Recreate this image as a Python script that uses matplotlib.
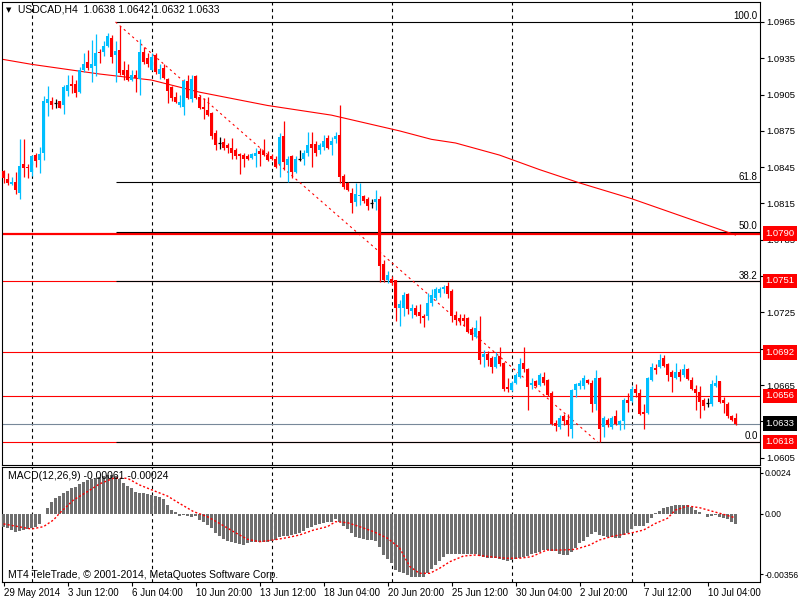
import numpy as np
import matplotlib
matplotlib.use('Agg')
import matplotlib.pyplot as plt
import matplotlib.transforms as mtransforms

plt.rcParams['font.family'] = ['Liberation Sans', 'DejaVu Sans']
plt.rcParams['font.size'] = 7

# USDCAD H4 candles (index 0 = 29 May 20:00)
opens = [1.0842, 1.0835, 1.0831, 1.0833, 1.0824, 1.0848, 1.0845, 1.0841, 1.0855, 1.0851,
         1.0857, 1.0898, 1.0900, 1.0898, 1.0900, 1.0896, 1.0908, 1.0914, 1.0914, 1.0907,
         1.0925, 1.0932, 1.0927, 1.0929, 1.0940, 1.0940, 1.0945, 1.0952, 1.0938, 1.0942,
         1.0925, 1.0925, 1.0917, 1.0921, 1.0918, 1.0940, 1.0935, 1.0925, 1.0938, 1.0922,
         1.0927, 1.0918, 1.0911, 1.0903, 1.0896, 1.0895, 1.0916, 1.0901, 1.0920, 1.0903,
         1.0895, 1.0892, 1.0890, 1.0873, 1.0865, 1.0866, 1.0863, 1.0861, 1.0859, 1.0856,
         1.0855, 1.0854, 1.0853, 1.0854, 1.0858, 1.0858, 1.0855, 1.0854, 1.0852, 1.0848,
         1.0871, 1.0847, 1.0854, 1.0841, 1.0852, 1.0852, 1.0857, 1.0864, 1.0864, 1.0859,
         1.0862, 1.0869, 1.0863, 1.0868, 1.0872, 1.0838, 1.0832, 1.0824, 1.0816, 1.0821,
         1.0821, 1.0819, 1.0815, 1.0816, 1.0819, 1.0765, 1.0752, 1.0753, 1.0752, 1.0729,
         1.0729, 1.0740, 1.0726, 1.0729, 1.0725, 1.0722, 1.0722, 1.0733, 1.0737, 1.0741,
         1.0744, 1.0747, 1.0743, 1.0723, 1.0720, 1.0720, 1.0720, 1.0711, 1.0705, 1.0710,
         1.0688, 1.0691, 1.0687, 1.0680, 1.0689, 1.0683, 1.0663, 1.0661, 1.0667, 1.0672,
         1.0683, 1.0678, 1.0665, 1.0668, 1.0665, 1.0672, 1.0669, 1.0658, 1.0634, 1.0630,
         1.0639, 1.0636, 1.0629, 1.0661, 1.0664, 1.0664, 1.0669, 1.0667, 1.0649, 1.0671,
         1.0630, 1.0636, 1.0630, 1.0639, 1.0632, 1.0635, 1.0653, 1.0652, 1.0662, 1.0658,
         1.0643, 1.0642, 1.0669, 1.0679, 1.0680, 1.0687, 1.0682, 1.0676, 1.0671, 1.0676,
         1.0673, 1.0678, 1.0669, 1.0662, 1.0659, 1.0653, 1.0650, 1.0649, 1.0664, 1.0668,
         1.0653, 1.0649, 1.0639, 1.0638]
highs = [1.0843, 1.0840, 1.0837, 1.0841, 1.0868, 1.0868, 1.0848, 1.0855, 1.0857, 1.0862,
         1.0904, 1.0912, 1.0903, 1.0901, 1.0900, 1.0913, 1.0921, 1.0921, 1.0917, 1.0928,
         1.0939, 1.0942, 1.0950, 1.0955, 1.0943, 1.0949, 1.0956, 1.0954, 1.0949, 1.0962,
         1.0933, 1.0930, 1.0925, 1.0925, 1.0951, 1.0944, 1.0939, 1.0939, 1.0939, 1.0930,
         1.0930, 1.0919, 1.0912, 1.0907, 1.0905, 1.0918, 1.0921, 1.0921, 1.0921, 1.0905,
         1.0902, 1.0903, 1.0891, 1.0876, 1.0870, 1.0869, 1.0865, 1.0869, 1.0861, 1.0857,
         1.0857, 1.0856, 1.0857, 1.0861, 1.0861, 1.0868, 1.0858, 1.0856, 1.0854, 1.0873,
         1.0883, 1.0854, 1.0855, 1.0854, 1.0859, 1.0859, 1.0874, 1.0874, 1.0867, 1.0865,
         1.0872, 1.0872, 1.0870, 1.0874, 1.0896, 1.0839, 1.0833, 1.0828, 1.0832, 1.0832,
         1.0822, 1.0820, 1.0819, 1.0826, 1.0821, 1.0768, 1.0759, 1.0755, 1.0752, 1.0735,
         1.0742, 1.0741, 1.0732, 1.0731, 1.0732, 1.0724, 1.0741, 1.0744, 1.0746, 1.0746,
         1.0748, 1.0750, 1.0744, 1.0726, 1.0724, 1.0724, 1.0721, 1.0713, 1.0719, 1.0722,
         1.0694, 1.0693, 1.0689, 1.0692, 1.0696, 1.0684, 1.0671, 1.0668, 1.0675, 1.0687,
         1.0696, 1.0679, 1.0671, 1.0669, 1.0675, 1.0676, 1.0670, 1.0660, 1.0636, 1.0640,
         1.0641, 1.0641, 1.0662, 1.0667, 1.0669, 1.0673, 1.0670, 1.0669, 1.0677, 1.0672,
         1.0639, 1.0638, 1.0639, 1.0644, 1.0636, 1.0654, 1.0658, 1.0664, 1.0666, 1.0662,
         1.0649, 1.0672, 1.0683, 1.0682, 1.0691, 1.0690, 1.0683, 1.0677, 1.0683, 1.0678,
         1.0682, 1.0679, 1.0672, 1.0665, 1.0664, 1.0654, 1.0654, 1.0669, 1.0673, 1.0668,
         1.0655, 1.0651, 1.0640, 1.0642]
lows = [1.0832, 1.0830, 1.0830, 1.0823, 1.0819, 1.0837, 1.0836, 1.0838, 1.0845, 1.0840,
        1.0851, 1.0887, 1.0893, 1.0894, 1.0894, 1.0889, 1.0904, 1.0906, 1.0903, 1.0906,
        1.0924, 1.0925, 1.0915, 1.0920, 1.0931, 1.0937, 1.0944, 1.0931, 1.0915, 1.0921,
        1.0917, 1.0916, 1.0916, 1.0907, 1.0905, 1.0930, 1.0928, 1.0925, 1.0922, 1.0918,
        1.0918, 1.0898, 1.0900, 1.0898, 1.0895, 1.0888, 1.0901, 1.0899, 1.0901, 1.0893,
        1.0885, 1.0887, 1.0868, 1.0859, 1.0860, 1.0859, 1.0857, 1.0852, 1.0852, 1.0839,
        1.0845, 1.0851, 1.0852, 1.0845, 1.0846, 1.0854, 1.0850, 1.0851, 1.0844, 1.0837,
        1.0843, 1.0833, 1.0836, 1.0840, 1.0850, 1.0847, 1.0854, 1.0845, 1.0854, 1.0856,
        1.0859, 1.0860, 1.0855, 1.0865, 1.0832, 1.0827, 1.0825, 1.0807, 1.0813, 1.0814,
        1.0815, 1.0810, 1.0811, 1.0810, 1.0750, 1.0750, 1.0749, 1.0748, 1.0718, 1.0714,
        1.0722, 1.0724, 1.0720, 1.0722, 1.0716, 1.0713, 1.0719, 1.0730, 1.0735, 1.0738,
        1.0741, 1.0737, 1.0717, 1.0715, 1.0715, 1.0714, 1.0708, 1.0702, 1.0704, 1.0682,
        1.0680, 1.0681, 1.0675, 1.0679, 1.0681, 1.0660, 1.0659, 1.0660, 1.0666, 1.0671,
        1.0676, 1.0644, 1.0662, 1.0663, 1.0664, 1.0665, 1.0656, 1.0632, 1.0627, 1.0629,
        1.0632, 1.0623, 1.0621, 1.0655, 1.0662, 1.0662, 1.0666, 1.0643, 1.0644, 1.0618,
        1.0622, 1.0630, 1.0629, 1.0632, 1.0628, 1.0629, 1.0643, 1.0651, 1.0655, 1.0640,
        1.0629, 1.0641, 1.0668, 1.0674, 1.0679, 1.0680, 1.0668, 1.0659, 1.0670, 1.0668,
        1.0672, 1.0669, 1.0661, 1.0644, 1.0638, 1.0644, 1.0647, 1.0648, 1.0663, 1.0650,
        1.0642, 1.0638, 1.0635, 1.0632]
closes = [1.0836, 1.0832, 1.0833, 1.0826, 1.0846, 1.0844, 1.0844, 1.0854, 1.0850, 1.0856,
          1.0900, 1.0901, 1.0896, 1.0898, 1.0894, 1.0911, 1.0913, 1.0912, 1.0906, 1.0925,
          1.0930, 1.0927, 1.0930, 1.0939, 1.0939, 1.0945, 1.0953, 1.0936, 1.0941, 1.0923,
          1.0921, 1.0917, 1.0921, 1.0919, 1.0940, 1.0932, 1.0930, 1.0936, 1.0924, 1.0926,
          1.0919, 1.0908, 1.0902, 1.0899, 1.0899, 1.0916, 1.0902, 1.0918, 1.0902, 1.0894,
          1.0893, 1.0888, 1.0871, 1.0863, 1.0865, 1.0861, 1.0861, 1.0857, 1.0854, 1.0854,
          1.0852, 1.0852, 1.0856, 1.0857, 1.0856, 1.0855, 1.0851, 1.0852, 1.0845, 1.0870,
          1.0849, 1.0852, 1.0841, 1.0852, 1.0852, 1.0857, 1.0863, 1.0861, 1.0857, 1.0863,
          1.0867, 1.0861, 1.0867, 1.0871, 1.0837, 1.0829, 1.0826, 1.0815, 1.0823, 1.0822,
          1.0817, 1.0813, 1.0815, 1.0819, 1.0763, 1.0752, 1.0756, 1.0749, 1.0729, 1.0732,
          1.0739, 1.0728, 1.0729, 1.0723, 1.0722, 1.0720, 1.0733, 1.0739, 1.0744, 1.0744,
          1.0746, 1.0740, 1.0722, 1.0719, 1.0718, 1.0718, 1.0709, 1.0706, 1.0712, 1.0686,
          1.0691, 1.0686, 1.0680, 1.0688, 1.0682, 1.0662, 1.0662, 1.0667, 1.0673, 1.0682,
          1.0678, 1.0663, 1.0667, 1.0664, 1.0673, 1.0667, 1.0657, 1.0633, 1.0631, 1.0638,
          1.0635, 1.0632, 1.0661, 1.0666, 1.0667, 1.0671, 1.0667, 1.0649, 1.0671, 1.0629,
          1.0638, 1.0632, 1.0638, 1.0633, 1.0635, 1.0653, 1.0650, 1.0662, 1.0658, 1.0641,
          1.0641, 1.0671, 1.0680, 1.0677, 1.0686, 1.0681, 1.0673, 1.0672, 1.0676, 1.0672,
          1.0678, 1.0670, 1.0662, 1.0658, 1.0651, 1.0648, 1.0650, 1.0666, 1.0667, 1.0651,
          1.0650, 1.0639, 1.0636, 1.0633]

# moving average (red line)
ma_idx = [0, 7, 24, 37, 49, 66, 82, 99, 107, 113, 124, 134, 144, 157, 183]
ma_val = [1.0934, 1.0930, 1.0922, 1.0917, 1.0907, 1.0896, 1.0888, 1.0875, 1.0868, 1.0865,
          1.0855, 1.0843, 1.0832, 1.0819, 1.0789]

# MACD(12,26,9) histogram, one value per candle
macd_hist = [-0.00076, -0.00086, -0.00096, -0.00105, -0.00101, -0.00096, -0.00090, -0.00086, -0.00076, -0.00060,
             -0.00002, 0.00035, 0.00066, 0.00090, 0.00103, 0.00119, 0.00135, 0.00148, 0.00158, 0.00172,
             0.00185, 0.00197, 0.00203, 0.00211, 0.00216, 0.00222, 0.00226, 0.00226, 0.00220, 0.00203,
             0.00177, 0.00164, 0.00148, 0.00125, 0.00121, 0.00119, 0.00115, 0.00111, 0.00105, 0.00096,
             0.00084, 0.00051, 0.00021, 0.00008, -0.00014, -0.00008, -0.00012, -0.00018, -0.00014, -0.00037,
             -0.00047, -0.00066, -0.00086, -0.00111, -0.00131, -0.00150, -0.00160, -0.00168, -0.00174, -0.00177,
             -0.00183, -0.00174, -0.00168, -0.00164, -0.00168, -0.00164, -0.00164, -0.00160, -0.00154, -0.00138,
             -0.00131, -0.00129, -0.00125, -0.00119, -0.00111, -0.00099, -0.00086, -0.00076, -0.00068, -0.00060,
             -0.00057, -0.00051, -0.00047, -0.00033, -0.00047, -0.00072, -0.00090, -0.00115, -0.00135, -0.00144,
             -0.00148, -0.00154, -0.00154, -0.00158, -0.00197, -0.00242, -0.00267, -0.00291, -0.00330, -0.00339,
             -0.00349, -0.00359, -0.00369, -0.00369, -0.00369, -0.00369, -0.00345, -0.00326, -0.00300, -0.00275,
             -0.00252, -0.00238, -0.00238, -0.00236, -0.00236, -0.00236, -0.00236, -0.00236, -0.00238, -0.00248,
             -0.00252, -0.00257, -0.00261, -0.00261, -0.00265, -0.00271, -0.00277, -0.00271, -0.00265, -0.00257,
             -0.00252, -0.00246, -0.00238, -0.00228, -0.00222, -0.00213, -0.00213, -0.00218, -0.00218, -0.00238,
             -0.00242, -0.00242, -0.00226, -0.00203, -0.00174, -0.00160, -0.00135, -0.00121, -0.00105, -0.00125,
             -0.00131, -0.00135, -0.00135, -0.00140, -0.00140, -0.00125, -0.00111, -0.00092, -0.00072, -0.00072,
             -0.00072, -0.00057, -0.00027, 0.00002, 0.00016, 0.00035, 0.00041, 0.00047, 0.00051, 0.00051,
             0.00051, 0.00051, 0.00037, 0.00021, 0.00012, -0.00004, -0.00018, -0.00014, -0.00008, -0.00018,
             -0.00027, -0.00033, -0.00047, -0.00061]
# signal line, points
sig_idx = [0, 7, 10, 12.5, 14, 17.5, 21, 24, 27.5, 31, 34, 37.5, 41, 44, 47.5, 51, 54, 57.5, 61, 64,
           67.5, 71, 74, 77.5, 81, 83, 86, 89, 92.5, 96, 99, 101.6, 104, 106.6, 109, 111.6, 115, 118,
           121.6, 125.8, 129, 132, 135.8, 139, 143, 146.6, 149, 152.5, 156.6, 160, 163, 166, 168, 171,
           174, 177.5, 180, 182, 183]
sig_val = [-0.00060, -0.00090, -0.00076, -0.00037, 0.00002, 0.00080, 0.00129, 0.00174, 0.00207, 0.00207,
           0.00168, 0.00135, 0.00103, 0.00060, 0.00012, -0.00018, -0.00057, -0.00105, -0.00150, -0.00164,
           -0.00154, -0.00140, -0.00125, -0.00096, -0.00076, -0.00047, -0.00053, -0.00076, -0.00105, -0.00144,
           -0.00200, -0.00310, -0.00349, -0.00349, -0.00320, -0.00281, -0.00248, -0.00242, -0.00252, -0.00261,
           -0.00261, -0.00252, -0.00213, -0.00213, -0.00209, -0.00183, -0.00154, -0.00131, -0.00115, -0.00096,
           -0.00057, -0.00027, 0.00021, 0.00045, 0.00035, 0.00012, -0.00004, -0.00018, -0.00024]

# fibonacci retracement anchors and ratios
fib_start, fib_end = 28, 148.5
fib_high, fib_low = 1.0965, 1.0618
fib_ratios = [1.0, 0.618, 0.5, 0.382, 0.0]
fib_names = ['100.0', '61.8', '50.0', '38.2', '0.0']

# horizontal levels with red price labels
red_levels = [1.0790, 1.0751, 1.0692, 1.0656, 1.0618]

week_idx = [7, 37, 67, 97, 127, 157]
date_idx = [0, 16, 32, 48, 64, 80, 96, 112, 128, 144, 160, 176]
date_labels = ['29 May 2014', '3 Jun 12:00', '6 Jun 04:00', '10 Jun 20:00', '13 Jun 12:00',
               '18 Jun 04:00', '20 Jun 20:00', '25 Jun 12:00', '30 Jun 04:00', '2 Jul 20:00',
               '7 Jul 12:00', '10 Jul 04:00']
price_ticks = [1.0965, 1.0935, 1.0905, 1.0875, 1.0845, 1.0815, 1.0785, 1.0755, 1.0725,
               1.0695, 1.0665, 1.0635, 1.0605]

BLUE = '#00BFFF'
RED = '#FF0000'

o = np.array(opens)
h = np.array(highs)
l = np.array(lows)
c = np.array(closes)
idx = np.arange(len(o))

fig = plt.figure(figsize=(8, 6), dpi=100)
W, H = 800.0, 600.0
ax = fig.add_axes([2 / W, 1 - 465 / H, 758 / W, 463 / H])
ax2 = fig.add_axes([2 / W, 1 - 582 / H, 758 / W, 115 / H])

xl = (-0.375, 189.125)
for a in (ax, ax2):
    a.set_xlim(*xl)
    for s in a.spines.values():
        s.set_color('black')
        s.set_linewidth(0.8)
    for w in week_idx:
        a.axvline(w, color='black', lw=0.8, ls=(0, (3, 3)), zorder=1)

ax.set_ylim(1.05989, 1.09815)

# horizontal levels
for lv in red_levels:
    ax.axhline(lv, color=RED, lw=1.6 if lv == 1.0790 else 0.8, zorder=2)
ax.axhline(c[-1], color='#778899', lw=0.8, zorder=2)

# fibonacci
fib_levels = [fib_low + r * (fib_high - fib_low) for r in fib_ratios]
ax.hlines(fib_levels, fib_start, xl[1], colors='black', lw=0.8, zorder=2.2)
trans = mtransforms.blended_transform_factory(ax.transAxes, ax.transData)
for lv, nm in zip(fib_levels, fib_names):
    ax.text(0.997, lv + 0.00004, nm, transform=trans, ha='right', va='bottom', fontsize=7)
ax.plot([fib_start, fib_end], [fib_high, fib_low], color=RED, lw=0.8, ls=(0, (2, 3)), zorder=2.3)

# moving average
ax.plot(ma_idx, ma_val, color=RED, lw=0.8, zorder=2.4)

# candles
flat = c == o
cols = np.where(c > o, BLUE, np.where(c < o, RED, 'black'))
ax.vlines(idx, l, h, colors=cols, lw=0.9, zorder=4)
body_lo = np.minimum(o, c)
body_h = np.maximum(np.abs(c - o), 0.00009)
ax.bar(idx[~flat], body_h[~flat], bottom=body_lo[~flat], width=0.75,
       color=cols[~flat], lw=0, zorder=5)
ax.hlines(o[flat], idx[flat] - 0.4, idx[flat] + 0.4, colors='black', lw=0.9, zorder=5)

# price axis
ax.yaxis.tick_right()
ax.set_yticks(price_ticks)
ax.set_yticklabels(['%.4f' % p for p in price_ticks])
ax.tick_params(axis='y', direction='out', length=3, pad=1.5, labelsize=6.8)
ax.set_xticks([])

box_x = (765.5 - 2) / 758
for lv in red_levels:
    ax.text(box_x, lv, '%.4f' % lv, transform=trans, ha='left', va='center', color='white',
            fontsize=6.8, clip_on=False, zorder=10,
            bbox=dict(boxstyle='square,pad=0.3', fc=RED, ec='none'))
ax.text(box_x, c[-1], '%.4f' % c[-1], transform=trans, ha='left', va='center', color='white',
        fontsize=6.8, clip_on=False, zorder=10,
        bbox=dict(boxstyle='square,pad=0.3', fc='black', ec='none'))

# title
ax.text(4 / 758, 1 - 8 / 463, '\u25bc', transform=ax.transAxes, ha='left', va='center',
        fontsize=5, family='DejaVu Sans')
ax.text(16 / 758, 1 - 8 / 463, 'USDCAD,H4  %.4f %.4f %.4f %.4f' % (o[-1], h[-1], l[-1], c[-1]),
        transform=ax.transAxes, ha='left', va='center', fontsize=7.5)

# MACD window
ax2.set_ylim(-0.0040, 0.00273)
ax2.bar(idx, macd_hist, width=0.75, color='#6e6e6e', lw=0, zorder=3)
ax2.plot(sig_idx, sig_val, color=RED, lw=1, ls=(0, (1.5, 1.5)), zorder=4)
ax2.yaxis.tick_right()
ax2.set_yticks([0.0024, 0.0, -0.00356])
ax2.set_yticklabels(['0.0024', '0.00', '-0.00356'])
ax2.tick_params(axis='y', direction='out', length=2.5, pad=1, labelsize=6.2)
ax2.set_xticks(date_idx)
ax2.set_xticklabels(date_labels, ha='left')
ax2.tick_params(axis='x', direction='out', length=3, pad=1.5, labelsize=7)
ax2.text(6 / 758, 1 - 9 / 115, 'MACD(12,26,9) %.5f %.5f' % (macd_hist[-1], sig_val[-1]),
         transform=ax2.transAxes, ha='left', va='center', fontsize=7.5, zorder=6)
ax2.text(6 / 758, 1 - 108 / 115, 'MT4 TeleTrade, \u00a9 2001-2014, MetaQuotes Software Corp.',
         transform=ax2.transAxes, ha='left', va='center', fontsize=7.5, zorder=6)

fig.savefig('out.png', dpi=100)
